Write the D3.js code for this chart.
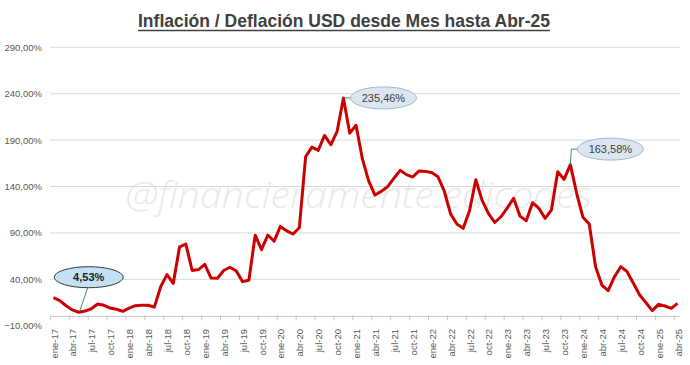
<!DOCTYPE html>
<html><head><meta charset="utf-8">
<script src="https://cdn.jsdelivr.net/npm/d3@7"></script>
<style>body{margin:0;background:#fff}svg{display:block}</style>
</head><body>
<script>
const categories = [
"ene-17","feb-17","mar-17","abr-17","may-17","jun-17","jul-17","ago-17","sep-17","oct-17","nov-17","dic-17",
"ene-18","feb-18","mar-18","abr-18","may-18","jun-18","jul-18","ago-18","sep-18","oct-18","nov-18","dic-18",
"ene-19","feb-19","mar-19","abr-19","may-19","jun-19","jul-19","ago-19","sep-19","oct-19","nov-19","dic-19",
"ene-20","feb-20","mar-20","abr-20","may-20","jun-20","jul-20","ago-20","sep-20","oct-20","nov-20","dic-20",
"ene-21","feb-21","mar-21","abr-21","may-21","jun-21","jul-21","ago-21","sep-21","oct-21","nov-21","dic-21",
"ene-22","feb-22","mar-22","abr-22","may-22","jun-22","jul-22","ago-22","sep-22","oct-22","nov-22","dic-22",
"ene-23","feb-23","mar-23","abr-23","may-23","jun-23","jul-23","ago-23","sep-23","oct-23","nov-23","dic-23",
"ene-24","feb-24","mar-24","abr-24","may-24","jun-24","jul-24","ago-24","sep-24","oct-24","nov-24","dic-24",
"ene-25","feb-25","mar-25","abr-25"];
const inflation = [
20.2,17,11.5,7,4.53,5.8,8.3,13.4,12,9,7.7,5.5,
9,11.6,12,12,10,32,45,35.6,75,78,49.5,50.5,
56,41.3,41,49.5,53,49,37.5,39,87.5,72,87.7,81,
97,92.2,88.8,95.5,172,182.5,179,195,185,199.5,235.46,197.5,
206,170,146,130.8,134.7,139.8,148.8,157.4,152.8,150.2,156.8,156.2,
155,150.5,135,110.5,99.5,94.9,113.8,147.3,125,111,101.2,107.4,
117,127.3,108.1,103.1,122.5,116.5,105.7,114.7,155.9,147.7,163.58,132.7,
106.8,99.6,53.6,33.8,27.7,42.8,53.6,48.2,35.7,23.1,14.8,6.2,
13,11.2,8.7,14.1];
const yTicks = [-10,40,90,140,190,240,290];
const xTickLabels = categories.filter((d,i)=>i%3===0);
const titleText = "Inflación / Deflación USD desde Mes hasta Abr-25";
const watermarkText = "@financieramente.edicodes";
const calloutIndex = [4,46,82];
const calloutLabel = ["4,53%","235,46%","163,58%"];

const W=690,H=365;
const svg = d3.select("body").append("svg").attr("width",W).attr("height",H)
  .style("font-family","'Liberation Sans', Arial, sans-serif");
const x = d3.scalePoint().domain(categories).range([53.5,677.5]);
const y = d3.scaleLinear().domain([-10,290]).range([325.7,47.3]);
const step = x.step();

// watermark
svg.append("text").attr("x",125).attr("y",208)
  .attr("textLength",467).attr("lengthAdjust","spacingAndGlyphs")
  .style("font-family","'Open Sans', sans-serif").style("font-style","italic").style("font-weight",300)
  .style("font-size","36px").attr("fill","#eaeaea").text(watermarkText);

// gridlines
svg.append("g").selectAll("line").data(yTicks.filter(d=>d>0)).join("line")
  .attr("x1",50).attr("x2",680).attr("y1",d=>y(d)).attr("y2",d=>y(d))
  .attr("stroke","#d9d9d9").attr("stroke-width",1);

// y axis labels
const ya = svg.append("g").attr("transform","translate(44,0)")
  .call(d3.axisLeft(y).tickValues(yTicks).tickSize(0).tickPadding(2)
    .tickFormat(d=>d3.format(".2f")(d).replace(".",",")+"%"));
ya.select(".domain").remove();
ya.selectAll("text").style("font-size","9.5px").attr("fill","#595959")
  .style("font-family","'Liberation Sans', Arial, sans-serif");

// x axis line at 0
const y0 = y(0);
svg.append("line").attr("x1",50).attr("x2",680).attr("y1",y0).attr("y2",y0)
  .attr("stroke","#c8c8c8").attr("stroke-width",1);
svg.append("g").selectAll("line").data(xTickLabels).join("line")
  .attr("x1",d=>x(d)-step/2).attr("x2",d=>x(d)-step/2)
  .attr("y1",y0-1).attr("y2",y0+4).attr("stroke","#c8c8c8");
svg.append("g").selectAll("text").data(xTickLabels).join("text")
  .attr("transform",d=>`translate(${x(d)+0.5},329) rotate(-90)`)
  .attr("text-anchor","end").attr("dominant-baseline","central")
  .style("font-size","9.5px").attr("fill","#595959").text(d=>d);

// line
svg.append("path").datum(inflation)
  .attr("d",d3.line().x((d,i)=>x(categories[i])).y(d=>y(d)))
  .attr("fill","none").attr("stroke","#cc0000").attr("stroke-width",3)
  .attr("stroke-linejoin","round");

// callouts
const pts = calloutIndex.map(i=>({x:x(categories[i]), y:y(inflation[i])}));
// 1: 4,53%
{
  const p=pts[0], cx=p.x+10, cy=p.y-35;
  svg.append("line").attr("x1",cx-1).attr("y1",cy+10.5).attr("x2",p.x+1).attr("y2",p.y-1)
    .attr("stroke","#3f8f70").attr("stroke-width",1);
  svg.append("ellipse").attr("cx",cx).attr("cy",cy).attr("rx",34.5).attr("ry",10.5)
    .attr("fill","#c3e1f3").attr("stroke","#3a3a3a").attr("stroke-width",1);
  svg.append("text").attr("x",cx).attr("y",cy).attr("text-anchor","middle").attr("dominant-baseline","central")
    .style("font-size","11px").style("font-weight","bold").attr("fill","#1a1a1a").text(calloutLabel[0]);
}
// 2: 235,46%
{
  const p=pts[1], cx=p.x+40, cy=p.y;
  svg.append("line").attr("x1",p.x).attr("y1",p.y).attr("x2",cx-33).attr("y2",cy)
    .attr("stroke","#3f8f70").attr("stroke-width",1);
  svg.append("ellipse").attr("cx",cx).attr("cy",cy).attr("rx",33).attr("ry",11)
    .attr("fill","#dce6f0").attr("stroke","#a8b8c8").attr("stroke-width",1);
  svg.append("text").attr("x",cx).attr("y",cy).attr("text-anchor","middle").attr("dominant-baseline","central")
    .style("font-size","11px").attr("fill","#404040").text(calloutLabel[1]);
}
// 3: 163,58%
{
  const p=pts[2], cx=p.x+40, cy=p.y-15.5;
  svg.append("polyline").attr("points",`${p.x},${p.y} ${p.x+1},${cy} ${cx-33},${cy}`)
    .attr("fill","none").attr("stroke","#3f8f70").attr("stroke-width",1);
  svg.append("ellipse").attr("cx",cx).attr("cy",cy).attr("rx",33).attr("ry",11)
    .attr("fill","#dce6f0").attr("stroke","#a8b8c8").attr("stroke-width",1);
  svg.append("text").attr("x",cx).attr("y",cy).attr("text-anchor","middle").attr("dominant-baseline","central")
    .style("font-size","11px").attr("fill","#404040").text(calloutLabel[2]);
}

// title
svg.append("text").attr("x",138).attr("y",27)
  .attr("textLength",412).attr("lengthAdjust","spacingAndGlyphs")
  .style("font-size","19px").style("font-weight","bold").attr("fill","#404040").text(titleText);
svg.append("line").attr("x1",138).attr("x2",550).attr("y1",30.5).attr("y2",30.5)
  .attr("stroke","#404040").attr("stroke-width",1.3);
</script>
</body></html>
